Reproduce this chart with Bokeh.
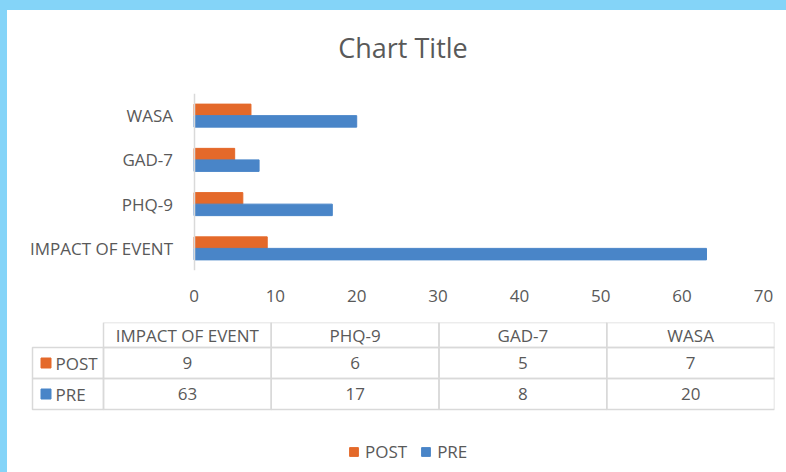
from bokeh.plotting import figure
from bokeh.models import ColumnDataSource, FactorRange, Range1d, FixedTicker, Legend, LegendItem
from bokeh.transform import dodge
from bokeh.layouts import column
from bokeh.core.properties import value
from bokeh.embed import file_html
from bokeh.resources import INLINE

# ---- data ----
categories = ["IMPACT OF EVENT", "PHQ-9", "GAD-7", "WASA"]
post = [9, 6, 5, 7]
pre = [63, 17, 8, 20]
series = ["POST", "PRE"]
x_ticks = [0, 10, 20, 30, 40, 50, 60, 70]
chart_title = "Chart Title"

# ---- styles ----
FONT = "Open Sans"
TXT = "#595959"
GRID = "#D9D9D9"
C_POST = "#E4692A"
C_PRE = "#4985C8"
FRAME_BLUE = "#84D4F8"

src = ColumnDataSource(dict(cat=categories, post=post, pre=pre))

W = 779
BL, BR = 13, 12


def blank(p):
    p.outline_line_color = None
    p.xgrid.visible = False
    p.ygrid.visible = False
    p.border_fill_color = "white"
    p.background_fill_color = "white"


# ---------------- title strip ----------------
pT = figure(width=W, height=73, x_range=Range1d(0, 754), y_range=Range1d(73, 0),
            x_axis_type=None, y_axis_type=None,
            output_backend="svg", toolbar_location=None,
            min_border_left=BL, min_border_right=BR, min_border_top=0, min_border_bottom=0,
            margin=(10, 0, 0, 7), styles={"background-color": "white"})
blank(pT)
pT.text(x=[382.5], y=[37], text=[chart_title], text_font=value(FONT),
        text_font_size="27px", text_color=TXT, text_align="center", text_baseline="middle")

# ---------------- bar chart ----------------
pA = figure(width=W, height=230,
            y_range=FactorRange(factors=categories, range_padding=0),
            x_range=Range1d(-21.33, 71.36),
            output_backend="svg", toolbar_location=None,
            min_border_left=BL, min_border_right=BR,
            min_border_top=10, min_border_bottom=43,
            margin=(0, 0, 0, 7), styles={"background-color": "white"})
blank(pA)

pA.hbar(y=dodge("cat", 0.13, range=pA.y_range), left=0, right="post", height=0.26,
        source=src, fill_color=C_POST, line_color=C_POST)
pA.hbar(y=dodge("cat", -0.13, range=pA.y_range), left=0, right="pre", height=0.26,
        source=src, fill_color=C_PRE, line_color=C_PRE)

ya = pA.yaxis[0]
ya.fixed_location = 0
ya.axis_line_color = GRID
ya.axis_line_width = 1.5
ya.major_tick_line_color = None
ya.minor_tick_line_color = None
ya.major_tick_out = 0
ya.major_tick_in = 0
ya.major_label_text_font = FONT
ya.major_label_text_font_size = "17px"
ya.major_label_text_color = TXT
ya.major_label_standoff = 21

xa = pA.xaxis[0]
xa.ticker = FixedTicker(ticks=x_ticks)
xa.axis_line_color = None
xa.major_tick_line_color = None
xa.minor_tick_line_color = None
xa.major_tick_out = 0
xa.major_tick_in = 0
xa.major_label_text_font = FONT
xa.major_label_text_font_size = "17px"
xa.major_label_text_color = TXT
xa.major_label_standoff = 19

# ---------------- data table + legend ----------------
label_w = 71
col_w = 167.75
hdr_h = 25
row_h = 31

pB = figure(width=W, height=159,
            x_range=Range1d(-12, 742), y_range=Range1d(150, 0),
            x_axis_type=None, y_axis_type=None,
            output_backend="svg", toolbar_location=None,
            min_border_left=BL, min_border_right=BR,
            min_border_top=9, min_border_bottom=0,
            margin=(0, 0, 0, 7), styles={"background-color": "white"})
blank(pB)

n = len(categories)
col_left = [label_w + i * col_w for i in range(n)]
col_right = [label_w + (i + 1) * col_w for i in range(n)]
col_mid = [(a + b) / 2 for a, b in zip(col_left, col_right)]

# header cells
pB.quad(left=col_left, right=col_right, top=[0] * n, bottom=[hdr_h] * n,
        fill_color=None, line_color=GRID, line_width=1.5)
pB.text(x=col_mid, y=[hdr_h / 2] * n, text=categories,
        text_font=value(FONT), text_font_size="17px", text_color=TXT,
        text_align="center", text_baseline="middle")

colors = [C_POST, C_PRE]
rows = [post, pre]
legend_items = []
for r, (name, vals, col) in enumerate(zip(series, rows, colors)):
    top = hdr_h + r * row_h
    bot = top + row_h
    mid = (top + bot) / 2
    pB.quad(left=[0] + col_left, right=[label_w] + col_right,
            top=[top] * (n + 1), bottom=[bot] * (n + 1),
            fill_color=None, line_color=GRID, line_width=1.5)
    sq = pB.rect(x=[13.5], y=[mid], width=10, height=10,
                 width_units="screen", height_units="screen",
                 fill_color=col, line_color=col)
    legend_items.append(LegendItem(label=name, renderers=[sq]))
    pB.text(x=[23], y=[mid], text=[name], text_font=value(FONT), text_font_size="17px",
            text_color=TXT, text_align="left", text_baseline="middle")
    pB.text(x=col_mid, y=[mid] * n, text=[str(v) for v in vals],
            text_font=value(FONT), text_font_size="17px", text_color=TXT,
            text_align="center", text_baseline="middle")

legend = Legend(items=legend_items, orientation="horizontal", location=(328, 9),
                border_line_color=None, background_fill_alpha=0,
                label_text_font=FONT, label_text_font_size="17px", label_text_color=TXT,
                glyph_width=11, glyph_height=11, label_standoff=6, spacing=13,
                padding=2, margin=0, label_height=18)
pB.add_layout(legend)

layout = column(pT, pA, pB, spacing=0, styles={"background-color": FRAME_BLUE})
open("out.html", "w").write(file_html(layout, INLINE))
